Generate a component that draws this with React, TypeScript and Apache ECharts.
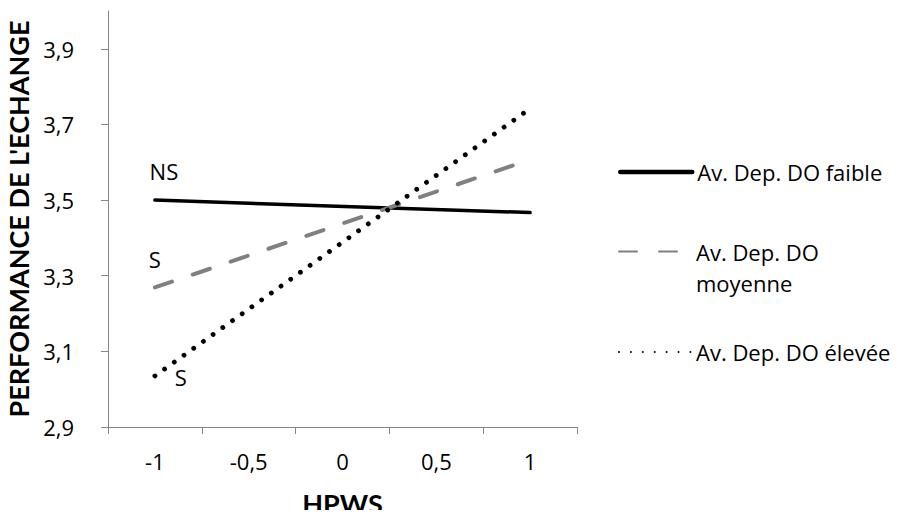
import React, { useEffect, useRef } from "react";
import * as echarts from "echarts";

// HPWS levels on the horizontal axis
const categories = ["-1", "-0,5", "0", "0,5", "1"];
// Series names (legend)
const seriesNames = ["Av. Dep. DO faible", "Av. Dep. DO moyenne", "Av. Dep. DO élevée"];
// Simple slopes: values at HPWS = -1 and HPWS = 1
const faible = [3.5, null, null, null, 3.467];
const moyenne = [3.269, null, null, null, 3.607];
const elevee = [3.035, null, null, null, 3.742];
// Significance notes attached to the start of each line
const significance = ["NS", "S", "S"];
// Y-axis ticks
const yTicks = [2.9, 3.1, 3.3, 3.5, 3.7, 3.9];
const yMin = 2.9;
const yMax = 4.0;

const FONT = "'Open Sans', 'Noto Sans', sans-serif";
const TITLE_FONT = "Lato, 'Open Sans', sans-serif";
const FS = 22;

export default function App() {
  const ref = useRef<HTMLDivElement>(null);

  useEffect(() => {
    if (!ref.current) return;
    const chart = echarts.init(ref.current, null, { renderer: "svg" });

    const noteLabel = (text: string, offset: number[]) => ({
      symbol: "circle",
      symbolSize: 0,
      label: {
        show: true,
        formatter: text,
        position: "inside",
        offset,
        color: "#000",
        fontFamily: FONT,
        fontSize: FS,
      },
    });

    const legendBase = {
      orient: "vertical" as const,
      left: 618,
      padding: 0,
      itemWidth: 72,
      itemHeight: 14,
      itemGap: 0,
      selectedMode: false,
      itemStyle: { opacity: 0, color: "transparent", borderWidth: 0 },
      textStyle: { color: "#000", fontFamily: FONT, fontSize: FS },
    };

    chart.setOption({
      animation: false,
      backgroundColor: "#fff",
      grid: { left: 108, right: 327, top: 11, bottom: 91, containLabel: false, outerBoundsMode: "none" },
      legend: [
        {
          ...legendBase,
          top: 159,
          data: [seriesNames[0]],
          lineStyle: { width: 4.5 },
          textStyle: { ...legendBase.textStyle, lineHeight: 26 },
        },
        {
          ...legendBase,
          top: 205,
          data: [seriesNames[1]],
          formatter: () => "\nAv. Dep. DO\nmoyenne",
          textStyle: { ...legendBase.textStyle, lineHeight: 31 },
        },
        {
          ...legendBase,
          top: 339,
          data: [seriesNames[2]],
          textStyle: { ...legendBase.textStyle, lineHeight: 26 },
        },
      ],
      xAxis: {
        type: "category",
        data: categories,
        boundaryGap: true,
        name: "HPWS",
        nameLocation: "middle",
        nameGap: 64,
        nameTextStyle: { color: "#000", fontFamily: TITLE_FONT, fontSize: 27, fontWeight: "bold", lineHeight: 24 },
        axisLine: { lineStyle: { color: "#868686", width: 1 } },
        axisTick: { show: true, length: 7, lineStyle: { color: "#868686" } },
        axisLabel: { color: "#000", fontFamily: FONT, fontSize: FS, margin: 23 },
        splitLine: { show: false },
      },
      yAxis: {
        type: "value",
        min: yMin,
        max: yMax,
        name: "PERFORMANCE DE L'ECHANGE",
        nameLocation: "middle",
        nameRotate: 90,
        nameGap: 69,
        nameTextStyle: { color: "#000", fontFamily: TITLE_FONT, fontSize: 27, fontWeight: "bold" },
        axisLine: { show: true, lineStyle: { color: "#868686", width: 1 } },
        axisTick: { show: true, length: 7, customValues: yTicks, lineStyle: { color: "#868686" } },
        axisLabel: {
          color: "#000",
          fontFamily: FONT,
          fontSize: FS,
          margin: 34,
          customValues: yTicks,
          formatter: (v: number) => v.toFixed(1).replace(".", ","),
        },
        splitLine: { show: false },
      },
      series: [
        {
          name: seriesNames[0],
          type: "line",
          data: faible,
          connectNulls: true,
          symbol: "none",
          lineStyle: { color: "#000", width: 3.5, cap: "round" },
          itemStyle: { color: "#000" },
          markPoint: { data: [{ coord: [categories[0], faible[0]], ...noteLabel(significance[0], [9, -29]) }] },
        },
        {
          name: seriesNames[1],
          type: "line",
          data: moyenne,
          connectNulls: true,
          symbol: "none",
          lineStyle: { color: "#808080", width: 4, type: [18, 22], cap: "round" },
          itemStyle: { color: "#808080" },
          markPoint: { data: [{ coord: [categories[0], moyenne[0]], ...noteLabel(significance[1], [0, -28]) }] },
        },
        {
          name: seriesNames[2],
          type: "line",
          data: elevee,
          connectNulls: true,
          symbol: "none",
          lineStyle: { color: "#000", width: 4.8, type: [0.01, 11.9], cap: "round" },
          itemStyle: { color: "#000" },
          markPoint: { data: [{ coord: [categories[0], elevee[0]], ...noteLabel(significance[2], [26, 1]) }] },
        },
      ],
    });

    return () => chart.dispose();
  }, []);

  return <div ref={ref} style={{ width: 904, height: 518, margin: -8 }} />;
}
